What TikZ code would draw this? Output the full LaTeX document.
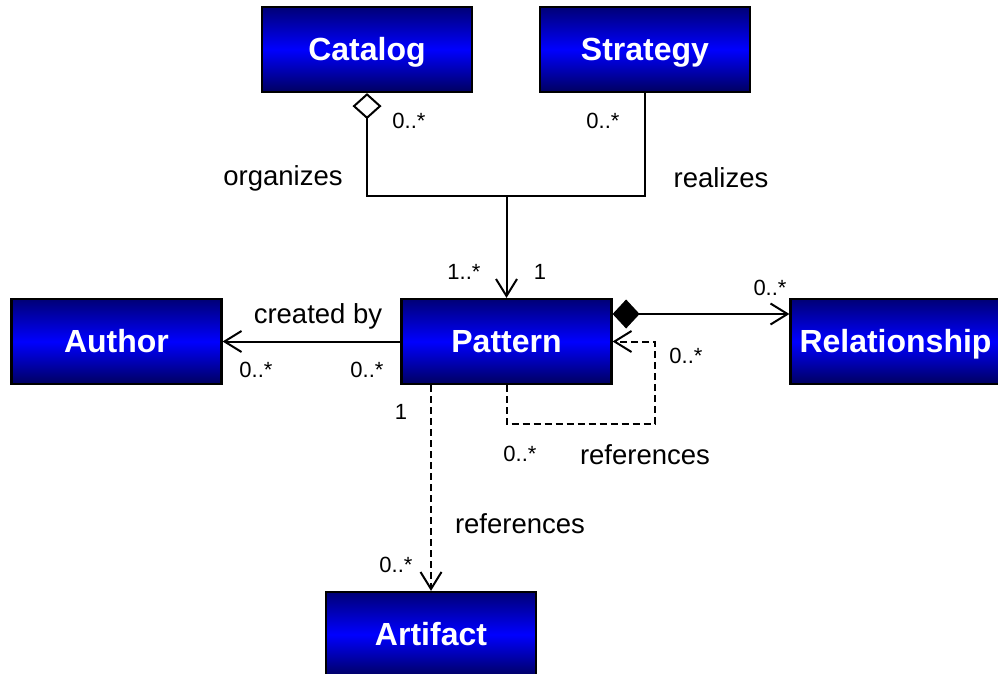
\documentclass[tikz,border=0pt]{standalone}
\usepackage{fontspec}
\setmainfont{Liberation Sans}
\usetikzlibrary{arrows.meta,calc}

\definecolor{boxtop}{RGB}{0,0,118}
\definecolor{boxmid}{RGB}{0,0,255}
\definecolor{boxbot}{RGB}{0,0,96}

\tikzset{
  classbox/.style={draw=black, line width=2.2pt, minimum width=210pt,
    minimum height=85pt, inner sep=0pt,
    top color=boxtop, bottom color=boxbot, middle color=boxmid,
    text=white, font=\fontsize{32}{32}\selectfont\bfseries,
    text height=22.9pt, text depth=0pt},
  assoc/.style={line width=2pt, draw=black},
  refline/.style={assoc, dash pattern=on 7pt off 4pt},
  opentip/.style={-{Straight Barb[length=17pt,width=21pt]}},
  rolelabel/.style={font=\fontsize{27.5}{27.5}\selectfont, inner sep=0pt},
  multlabel/.style={font=\fontsize{22}{22}\selectfont, inner sep=0pt},
}

\begin{document}
\begin{tikzpicture}[x=1pt, y=-1pt]
  \useasboundingbox (0,0) rectangle (998,674);
  \clip (0,0) rectangle (998,674);

  % classes
  \node[classbox] (catalog)  at (367,49.5)   {Catalog};
  \node[classbox] (strategy) at (645,49.5)   {Strategy};
  \node[classbox] (author)   at (116.5,341.5) {Author};
  \node[classbox] (pattern)  at (506.5,341.5) {Pattern};
  \node[classbox] (relation) at (895.5,341.5) {Relationship};
  \node[classbox] (artifact) at (431,634.5)  {Artifact};

  % Catalog organizes / Strategy realizes Pattern
  \coordinate (join) at (506.5,196);
  \draw[assoc, {Diamond[open,length=26pt,width=29pt]}-]
    (catalog.south) |- (join) -| (strategy.south);
  \draw[assoc, opentip] (join) -- (pattern.north);

  % Pattern created by Author
  \draw[assoc, opentip] (pattern.west) -- (author.east);

  % Pattern composed of Relationships
  \coordinate (comp) at ($(pattern.east)+(0,-27.5)$);
  \draw[assoc, {Diamond[length=27pt,width=29pt]}-{Straight Barb[length=17pt,width=21pt]}]
    (comp) -- (comp -| relation.west);

  % Pattern references Pattern
  \coordinate (selfcorner) at ($(pattern.east)+(42,82.5)$);
  \draw[refline, opentip]
    (pattern.south) |- (selfcorner) |- (pattern.east);

  % Pattern references Artifact
  \draw[refline, opentip] (pattern.south -| artifact.north) -- (artifact.north);

  % role names
  \node[rolelabel] (lorg)  at (283,178) {organizes};
  \node[rolelabel] (lreal) at (721,178) {realizes};
  \node[rolelabel] (lcre)  at (318,316) {created by};
  \node[rolelabel] (lref1) at (645,455) {references};
  \node[rolelabel] (lref2) at (520,524) {references};

  % multiplicities
  \node[multlabel] (m1)  at (409,121) {0..*};
  \node[multlabel] (m2)  at (603,121) {0..*};
  \node[multlabel] (m3)  at (464,272) {1..*};
  \node[multlabel] (m4)  at (540,272) {1};
  \node[multlabel] (m5)  at (770,288) {0..*};
  \node[multlabel] (m6)  at (256,370) {0..*};
  \node[multlabel] (m7)  at (367,370) {0..*};
  \node[multlabel] (m8)  at (686,356) {0..*};
  \node[multlabel] (m9)  at (401,412) {1};
  \node[multlabel] (m10) at (520,454) {0..*};
  \node[multlabel] (m11) at (396,565) {0..*};
\end{tikzpicture}
\end{document}
